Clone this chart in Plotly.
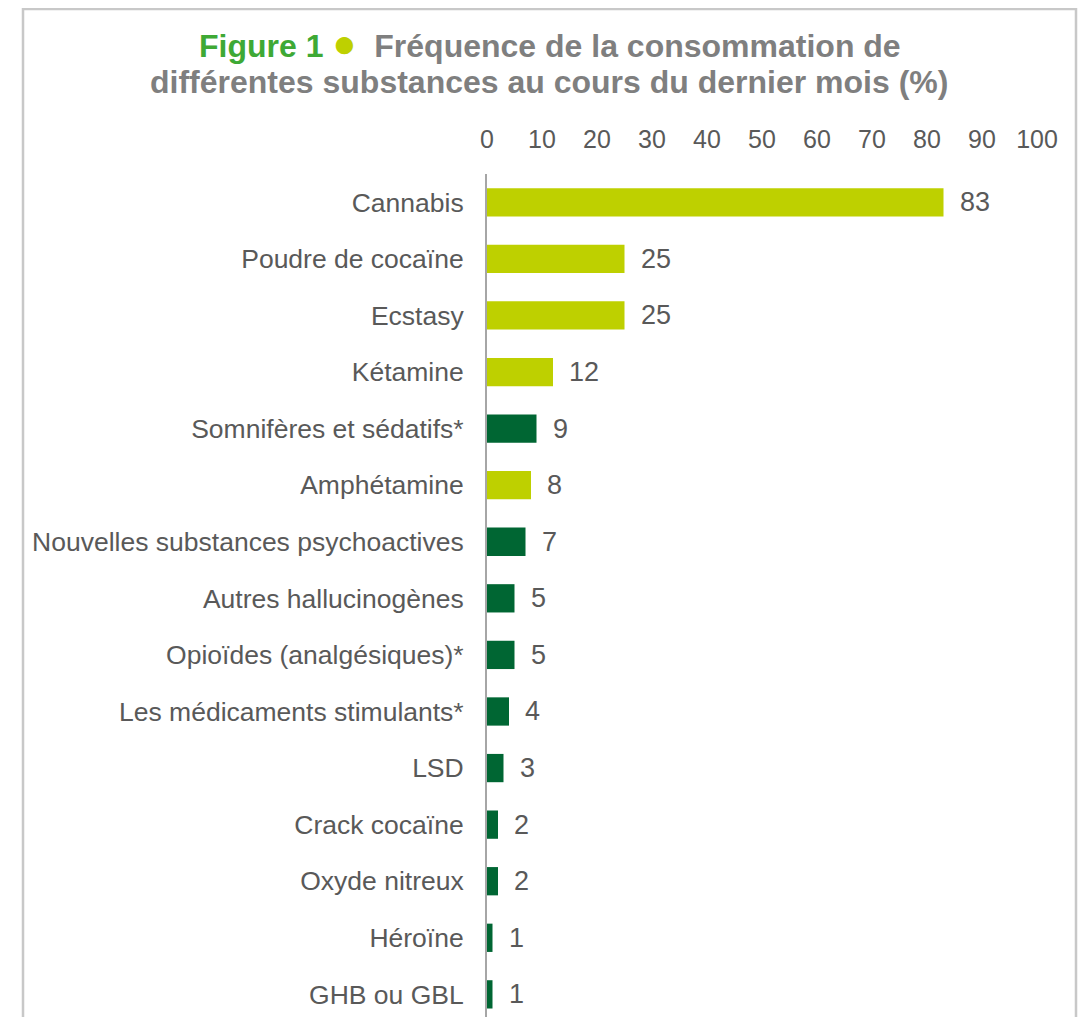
import plotly.graph_objects as go

# data (% used in the last month)
substances = [
    "Cannabis", "Poudre de cocaïne", "Ecstasy", "Kétamine",
    "Somnifères et sédatifs*", "Amphétamine", "Nouvelles substances psychoactives",
    "Autres hallucinogènes", "Opioïdes (analgésiques)*", "Les médicaments stimulants*",
    "LSD", "Crack cocaïne", "Oxyde nitreux", "Héroïne", "GHB ou GBL",
]
percent = [83, 25, 25, 12, 9, 8, 7, 5, 5, 4, 3, 2, 2, 1, 1]
group = ["A", "A", "A", "A", "B", "A", "B", "B", "B", "B", "B", "B", "B", "B", "B"]
x_ticks = [0, 10, 20, 30, 40, 50, 60, 70, 80, 90, 100]

LIME = "#BED000"
DARK = "#006633"
TEXT = "#595959"
FONT = "Liberation Sans, Arial, sans-serif"
colours = {"A": LIME, "B": DARK}

# page body adds an 8px margin, so the figure is 8px smaller and everything shifted
W, H = 1078, 1009
L, R, T, B = 479, 49, 166, 0

fig = go.Figure()
fig.add_trace(
    go.Bar(
        x=percent,
        y=substances,
        orientation="h",
        marker=dict(color=[colours[g] for g in group], line_width=0),
        hoverinfo="x+y",
    )
)

for s, v in zip(substances, percent):
    fig.add_annotation(
        x=v, y=s, text=str(v), showarrow=False,
        xanchor="left", xshift=14,
        font=dict(family=FONT, size=27, color=TEXT),
    )

fig.update_layout(
    width=W, height=H,
    margin=dict(l=L, r=R, t=T, b=B),
    paper_bgcolor="white", plot_bgcolor="white",
    bargap=0.5,
    showlegend=False,
    font=dict(family=FONT, size=26, color=TEXT),
)
fig.update_xaxes(
    side="top", range=[0, 100], tickvals=x_ticks,
    showgrid=False, zeroline=False, showline=False,
    ticklabelstandoff=20,
    tickfont=dict(size=25, color=TEXT),
)
fig.update_yaxes(
    range=[14.4, -0.5], showgrid=False, zeroline=False,
    showline=True, linecolor="#A6A6A6", linewidth=2,
    ticklabelstandoff=16,
    tickfont=dict(size=26.5, color=TEXT),
)

pw, ph = W - L - R, H - T - B
def px(x): return (x - L) / pw
def py(y): return (H - B - y) / ph

# title, two centred lines
title_font = dict(family=FONT, size=32, color="#7F7F7F", weight="bold")
line1 = (
    '<span style="color:#3EA935">Figure 1</span> '
    '<span style="color:#BED000;font-size:40px">●</span>  '
    'Fréquence de la consommation de'
)
line2 = "différentes substances au cours du dernier mois (%)"
fig.add_annotation(
    text=line1, xref="paper", yref="paper", x=px(542), y=py(35),
    xanchor="center", yanchor="middle", showarrow=False, font=title_font,
)
fig.add_annotation(
    text=line2, xref="paper", yref="paper", x=px(541), y=py(74),
    xanchor="center", yanchor="middle", showarrow=False, font=title_font,
)

# frame around the chart (bottom edge cut off in the original)
fig.add_shape(
    type="path", xref="paper", yref="paper",
    path=f"M {px(15)},{py(H + 20)} L {px(15)},{py(1)} L {px(1068)},{py(1)} L {px(1068)},{py(H + 20)}",
    line=dict(color="#C8C8C8", width=2.5), layer="below",
)

fig.write_html("out.html")
